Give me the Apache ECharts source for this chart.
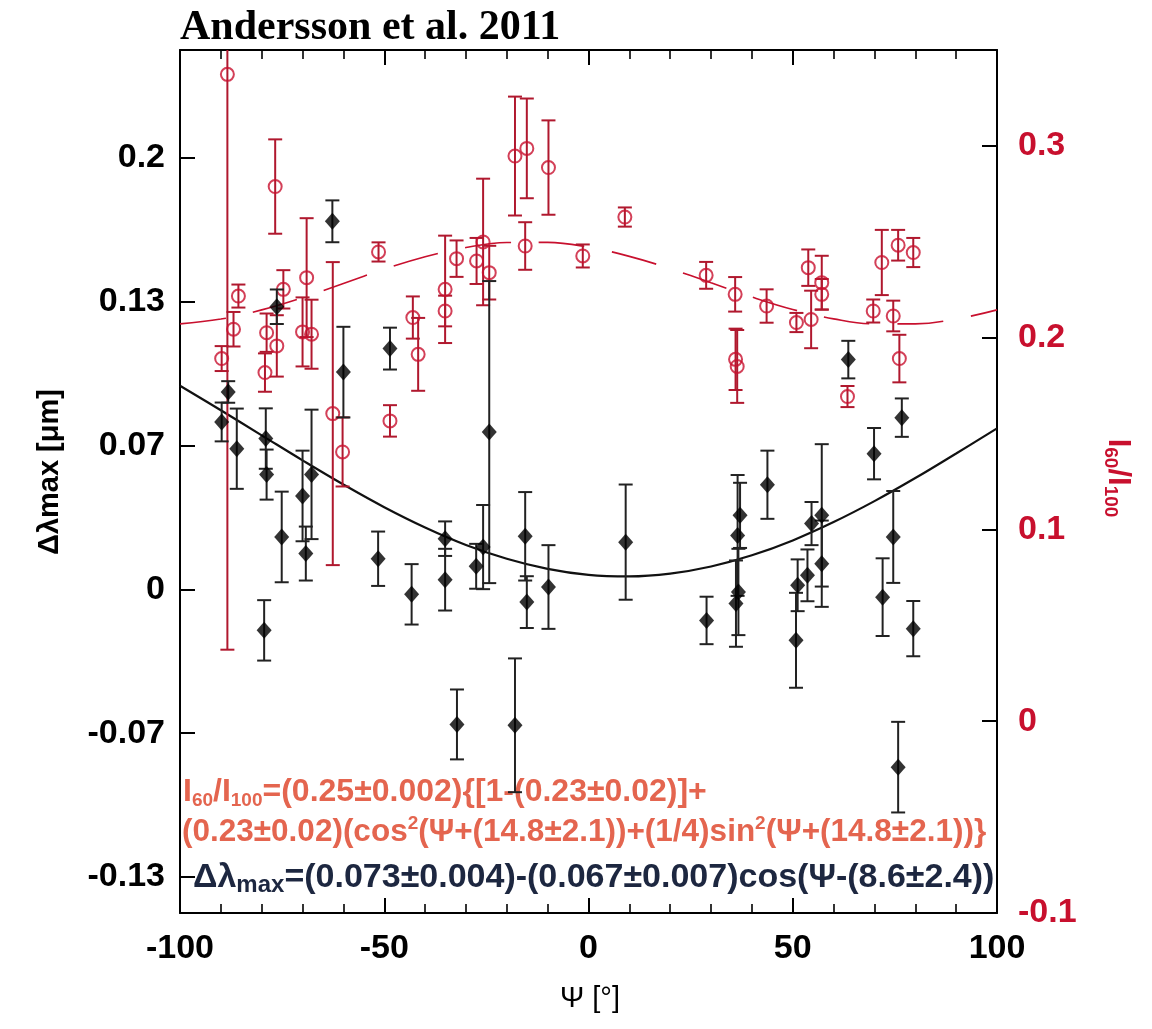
<!DOCTYPE html>
<html>
<head>
<meta charset="utf-8">
<script src="https://cdn.jsdelivr.net/npm/echarts@6/dist/echarts.min.js"></script>
<style>
  html, body { margin: 0; padding: 0; background: #ffffff; }
  #chart { width: 1152px; height: 1029px; }
</style>
</head>
<body>
<div id="chart"></div>
<script>
// Delta lambda_max per cloud: position angle Psi [deg], value [um], 1-sigma error
const dlPsi = [-89.8, -88.2, -86.1, -79.0, -78.8, -79.4, -75.1, -76.3, -70.0, -69.2, -67.8, -62.7,
  -60.0, -51.5, -48.6, -43.3, -35.1, -35.1, -32.2, -27.5, -25.8, -24.3, -15.5, -15.1, -9.8, -18.0,
  9.1, 28.9, 37.1, 36.5, 36.7, 36.1, 43.8, 51.2, 53.6, 54.6, 57.1, 57.1, 50.8, 63.6, 69.9, 72.0,
  74.6, 75.8, 76.7, 79.5];
const dlVal = [0.0776, 0.0915, 0.0652, 0.0699, 0.0532, -0.019, 0.0243, 0.131, 0.0433, 0.0166, 0.0533, 0.1706,
  0.1007, 0.0142, 0.1116, -0.0023, 0.0235, 0.0045, -0.0626, 0.0107, 0.0196, 0.0729, 0.0246, -0.0059, 0.0011, -0.063,
  0.0219, -0.0144, 0.0343, 0.025, -0.0012, -0.0066, 0.0485, 0.0019, 0.0065, 0.0305, 0.0343, 0.0119, -0.0236, 0.1065, 0.0629, -0.0036,
  0.0243, -0.0824, 0.0796, -0.0182];
const dlErr = [0.009, 0.005, 0.0186, 0.014, 0.0116, 0.014, 0.021, 0.008, 0.021, 0.0125, 0.03, 0.0097,
  0.021, 0.0126, 0.0097, 0.014, 0.008, 0.0143, 0.0162, 0.0104, 0.0195, 0.07, 0.0205, 0.012, 0.0194, 0.031,
  0.0267, 0.011, 0.0151, 0.028, 0.02, 0.02, 0.0158, 0.012, 0.012, 0.01, 0.033, 0.02, 0.022, 0.0087, 0.0119, 0.018,
  0.0213, 0.021, 0.0089, 0.0128];

// I60/I100 colour ratio per cloud
const irPsi = [-89.8, -88.4, -86.9, -85.7, -79.2, -78.8, -76.7, -76.3, -74.7, -70.0, -69.0, -67.8, -62.6,
  -60.2, -51.4, -48.6, -43.0, -41.7, -35.1, -35.1, -32.3, -27.4, -25.8, -24.3, -18.0, -15.1, -15.5, -9.8,
  -1.4, 8.9, 28.8, 35.9, 36.0, 36.4, 43.6, 50.9, 53.8, 54.5, 57.1, 57.1, 63.4, 69.7, 71.8, 74.6, 75.8, 76.1, 79.5];
const irVal = [0.1891, 0.3373, 0.2044, 0.2217, 0.1818, 0.2026, 0.2788, 0.1957, 0.2252, 0.2030, 0.2313, 0.2018, 0.1604,
  0.1404, 0.2447, 0.1566, 0.2105, 0.1913, 0.2252, 0.2139, 0.2412, 0.2400, 0.2499, 0.2339, 0.2947, 0.2987, 0.2478, 0.2887,
  0.2426, 0.2629, 0.2325, 0.2226, 0.1887, 0.1850, 0.2165, 0.2079, 0.2365, 0.2095, 0.2287, 0.2226, 0.1693, 0.2139, 0.2392, 0.2113, 0.2482, 0.1891, 0.2444];
const irErr = [0.0065, 0.30, 0.009, 0.006, 0.01, 0.01, 0.0246, 0.016, 0.01, 0.018, 0.031, 0.018, 0.079,
  0.018, 0.005, 0.0082, 0.011, 0.019, 0.028, 0.008, 0.0095, 0.012, 0.033, 0.014, 0.031, 0.026, 0.0124, 0.0246,
  0.006, 0.005, 0.007, 0.009, 0.016, 0.019, 0.0087, 0.005, 0.0095, 0.015, 0.014, 0.008, 0.0055, 0.006, 0.017, 0.008, 0.008, 0.0124, 0.0076];

// fitted curves, sampled every 10 deg
const fitPsi = [-100, -90, -80, -70, -60, -50, -40, -30, -20, -10, 0, 10, 20, 30, 40, 50, 60, 70, 80, 90, 100];
const dlFit = [0.0944, 0.0830, 0.0714, 0.0598, 0.0486, 0.0381, 0.0287, 0.0206, 0.0142, 0.0095, 0.0067,
  0.0060, 0.0073, 0.0106, 0.0158, 0.0227, 0.0312, 0.0409, 0.0516, 0.0630, 0.0746];
const irFit = [0.2072, 0.2097, 0.2145, 0.2209, 0.2283, 0.2357, 0.2422, 0.2470, 0.2496, 0.2497, 0.2472,
  0.2424, 0.2360, 0.2286, 0.2212, 0.2147, 0.2098, 0.2072, 0.2072, 0.2097, 0.2145];

// axis ticks
const xTickStep = 50;
const leftTicks = [0.2, 0.13333, 0.06667, 0, -0.06667, -0.13333];
const rightTicks = [0.3, 0.2, 0.1, 0, -0.1];

const RED = '#c8102e';
const RED_BAR = '#b0182e';
const EQ_RED = '#e4654f';
const EQ_DARK = '#1d2740';
const SANS = "'Liberation Sans', Arial, sans-serif";
const TICK_FONT = 34;

const zip3 = (a, b, c) => a.map((v, i) => [v, b[i], c[i]]);
const zip2 = (a, b) => a.map((v, i) => [v, b[i]]);
const trimFmt = v => String(parseFloat(Number(v).toFixed(2)));

function errorBars(capHalf, color, width) {
  return function (params, api) {
    const x = api.value(0), y = api.value(1), e = api.value(2);
    const hi = api.coord([x, y + e]);
    const lo = api.coord([x, y - e]);
    const style = { stroke: color, lineWidth: width };
    return {
      type: 'group',
      children: [
        { type: 'line', shape: { x1: hi[0], y1: hi[1], x2: lo[0], y2: lo[1] }, style },
        { type: 'line', shape: { x1: hi[0] - capHalf, y1: hi[1], x2: hi[0] + capHalf, y2: hi[1] }, style },
        { type: 'line', shape: { x1: lo[0] - capHalf, y1: lo[1], x2: lo[0] + capHalf, y2: lo[1] }, style }
      ]
    };
  };
}

const frameLine = { show: true, onZero: false, lineStyle: { color: '#000', width: 2 } };

function xAxisDef(pos, withLabels) {
  return {
    type: 'value', position: pos, min: -100, max: 100, interval: xTickStep,
    axisLine: frameLine,
    axisTick: { show: true, inside: true, length: 15, lineStyle: { color: '#000', width: 2 } },
    minorTick: { show: true, splitNumber: 5, length: 9, lineStyle: { color: '#000', width: 1.6 } },
    splitLine: { show: false },
    axisLabel: withLabels
      ? { show: true, margin: 19, color: '#000', fontFamily: SANS, fontWeight: 'bold', fontSize: TICK_FONT }
      : { show: false }
  };
}

const chart = echarts.init(document.getElementById('chart'), null, { renderer: 'canvas' });

const sub = { fontFamily: SANS, fontWeight: 'bold', fontSize: 19, lineHeight: 16, verticalAlign: 'bottom' };
const sup = { fontFamily: SANS, fontWeight: 'bold', fontSize: 19, lineHeight: 16, verticalAlign: 'top' };

chart.setOption({
  animation: false,
  backgroundColor: '#ffffff',
  grid: { left: 180, right: 155, top: 50, bottom: 116, show: false },
  xAxis: [xAxisDef('bottom', true), xAxisDef('top', false)],
  yAxis: [
    {
      type: 'value', position: 'left', min: -0.15, max: 0.25,
      axisLine: frameLine,
      axisTick: { show: true, inside: true, length: 15, customValues: leftTicks, lineStyle: { color: '#000', width: 2 } },
      axisLabel: { customValues: leftTicks, formatter: trimFmt, margin: 15, color: '#000',
        fontFamily: SANS, fontWeight: 'bold', fontSize: TICK_FONT },
      splitLine: { show: false }
    },
    {
      type: 'value', position: 'right', min: -0.1, max: 0.35,
      axisLine: frameLine,
      axisTick: { show: true, inside: true, length: 15, customValues: rightTicks, lineStyle: { color: '#000', width: 2 } },
      axisLabel: { customValues: rightTicks, formatter: trimFmt, margin: 21, color: RED,
        fontFamily: SANS, fontWeight: 'bold', fontSize: TICK_FONT },
      splitLine: { show: false }
    }
  ],
  series: [
    {
      name: 'I60/I100 fit', type: 'line', xAxisIndex: 0, yAxisIndex: 1,
      data: zip2(fitPsi, irFit), smooth: 0.4, showSymbol: false, z: 1,
      lineStyle: { color: RED, width: 1.6, type: [46, 28] }
    },
    {
      name: 'dl fit', type: 'line', xAxisIndex: 0, yAxisIndex: 0,
      data: zip2(fitPsi, dlFit), smooth: 0.4, showSymbol: false, z: 1,
      lineStyle: { color: '#111', width: 2.2 }
    },
    {
      name: 'I60/I100 err', type: 'custom', xAxisIndex: 0, yAxisIndex: 1, clip: true, z: 2,
      renderItem: errorBars(7, RED_BAR, 2), encode: { x: 0, y: 1 },
      data: zip3(irPsi, irVal, irErr)
    },
    {
      name: 'I60/I100', type: 'scatter', xAxisIndex: 0, yAxisIndex: 1, z: 3,
      data: zip2(irPsi, irVal), symbol: 'circle', symbolSize: 13,
      itemStyle: { color: 'rgba(255,255,255,0)', borderColor: RED, borderWidth: 2 }
    },
    {
      name: 'dl err', type: 'custom', xAxisIndex: 0, yAxisIndex: 0, clip: true, z: 4,
      renderItem: errorBars(7, '#222', 2), encode: { x: 0, y: 1 },
      data: zip3(dlPsi, dlVal, dlErr)
    },
    {
      name: 'dl', type: 'scatter', xAxisIndex: 0, yAxisIndex: 0, z: 5,
      data: zip2(dlPsi, dlVal), symbol: 'diamond', symbolSize: [15, 17],
      itemStyle: { color: '#000' }
    }
  ],
  graphic: [
    {
      type: 'text', x: 180, y: 28,
      style: { text: 'Andersson et al. 2011', fill: '#000', align: 'left', verticalAlign: 'middle',
        font: "bold 42px 'Liberation Serif', 'Times New Roman', serif" }
    },
    {
      type: 'text', x: 50, y: 472, rotation: Math.PI / 2,
      style: {
        text: 'Δλmax [μm]', fill: '#000', align: 'center', verticalAlign: 'middle',
        font: "bold 29px 'Liberation Sans', Arial, sans-serif"
      }
    },
    {
      type: 'text', x: 1118, y: 478, rotation: -Math.PI / 2,
      style: {
        text: 'I{s|60}/I{s|100}', fill: RED, align: 'center', verticalAlign: 'middle',
        fontFamily: SANS, fontWeight: 'bold', fontSize: 31, lineHeight: 34,
        rich: { s: Object.assign({}, sub, { fill: RED }) }
      }
    },
    {
      type: 'text', x: 590, y: 999,
      style: { text: 'Ψ [°]', fill: '#000', align: 'center', verticalAlign: 'middle',
        font: "29px 'Liberation Sans', Arial, sans-serif" }
    },
    {
      type: 'text', x: 183, y: 792,
      style: {
        text: 'I{s|60}/I{s|100}=(0.25±0.002){[1-(0.23±0.02)]+',
        fill: EQ_RED, align: 'left', verticalAlign: 'middle',
        fontFamily: SANS, fontWeight: 'bold', fontSize: 32, lineHeight: 36,
        rich: { s: Object.assign({}, sub, { fill: EQ_RED }) }
      }
    },
    {
      type: 'text', x: 182, y: 832,
      style: {
        text: '(0.23±0.02)(cos{p|2}(Ψ+(14.8±2.1))+(1/4)sin{p|2}(Ψ+(14.8±2.1))}',
        fill: EQ_RED, align: 'left', verticalAlign: 'middle',
        fontFamily: SANS, fontWeight: 'bold', fontSize: 31.5, lineHeight: 36,
        rich: { p: Object.assign({}, sup, { fill: EQ_RED }) }
      }
    },
    {
      type: 'text', x: 193, y: 878,
      style: {
        text: 'Δλ{s|max}=(0.073±0.004)-(0.067±0.007)cos(Ψ-(8.6±2.4))',
        fill: EQ_DARK, align: 'left', verticalAlign: 'middle',
        fontFamily: SANS, fontWeight: 'bold', fontSize: 34, lineHeight: 38,
        rich: { s: Object.assign({}, sub, { fill: EQ_DARK, fontSize: 24, lineHeight: 20 }) }
      }
    }
  ]
});
</script>
</body>
</html>
